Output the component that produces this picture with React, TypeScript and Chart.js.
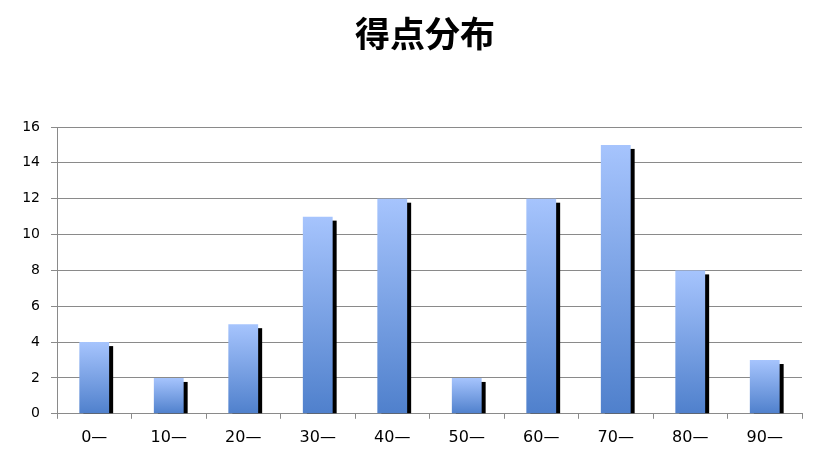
import React, { useEffect, useRef } from "react";
import { Chart, registerables } from "chart.js";

Chart.register(...registerables);

const categories: string[] = ["0—", "10—", "20—", "30—", "40—", "50—", "60—", "70—", "80—", "90—"];
const counts: number[] = [4, 2, 5, 11, 12, 2, 12, 15, 8, 3];
const yMin = 0;
const yMax = 16;
const yStep = 2;
const titleText = "得点分布";

const shadowPlugin = {
  id: "barShadow",
  beforeDatasetDraw(chart: any, args: any) {
    const meta = args.meta;
    const ctx = chart.ctx;
    ctx.save();
    ctx.fillStyle = "#000000";
    meta.data.forEach((el: any) => {
      const { x, y, base, width } = el.getProps(["x", "y", "base", "width"], true);
      const h = base - y - 4;
      if (h > 0) ctx.fillRect(x - width / 2 + 4, y + 4, width, h);
    });
    ctx.restore();
  },
};

export default function App() {
  const ref = useRef<HTMLCanvasElement | null>(null);
  useEffect(() => {
    document.body.style.margin = "0";
    const canvas = ref.current;
    if (!canvas) return;
    const gridColor = "#8a8a8a";
    const chart = new Chart(canvas, {
      type: "bar",
      data: {
        labels: categories,
        datasets: [
          {
            data: counts,
            barPercentage: 0.4,
            categoryPercentage: 1,
            borderWidth: 0,
            backgroundColor: (c: any) => {
              const ch = c.chart;
              if (c.type !== "data" || !ch.chartArea) return "#8fb0ee";
              const ys = ch.scales.y;
              const top = ys.getPixelForValue(c.raw as number);
              const bottom = ys.getPixelForValue(0);
              const g = ch.ctx.createLinearGradient(0, top, 0, bottom);
              g.addColorStop(0, "#a6c4fd");
              g.addColorStop(1, "#4f80cc");
              return g;
            },
          },
        ],
      },
      options: {
        animation: false,
        responsive: false,
        layout: { padding: { left: 14, right: 0, top: 0, bottom: 0 } },
        plugins: {
          legend: { display: false },
          tooltip: { enabled: false },
          title: {
            display: true,
            text: titleText,
            color: "#000000",
            font: { family: "'Noto Sans CJK JP', sans-serif", size: 35, weight: "bold" },
            padding: { top: 13, bottom: 72 },
          },
        },
        scales: {
          x: {
            offset: true,
            grid: {
              display: true,
              offset: true,
              drawOnChartArea: false,
              drawTicks: true,
              tickLength: 5,
              color: gridColor,
            },
            border: { display: true, color: gridColor },
            ticks: {
              color: "#000000",
              padding: 9,
              font: { family: "'DejaVu Sans', sans-serif", size: 16 },
              maxRotation: 0,
            },
          },
          y: {
            min: yMin,
            max: yMax,
            afterFit: (s: any) => {
              s.width = 43;
            },
            grid: { color: gridColor, tickLength: 6, drawTicks: true },
            border: { display: true, color: gridColor },
            ticks: {
              stepSize: yStep,
              color: "#000000",
              padding: 11,
              font: { family: "'DejaVu Sans', sans-serif", size: 14 },
            },
          },
          y2: {
            type: "linear",
            position: "right",
            display: true,
            grid: { display: false, drawTicks: false },
            border: { display: false },
            ticks: { display: false },
            afterFit: (s: any) => {
              s.width = 34;
            },
          },
        },
      },
      plugins: [shadowPlugin],
    });
    return () => chart.destroy();
  }, []);
  return <canvas ref={ref} width={836} height={456} style={{ display: "block" }} />;
}
